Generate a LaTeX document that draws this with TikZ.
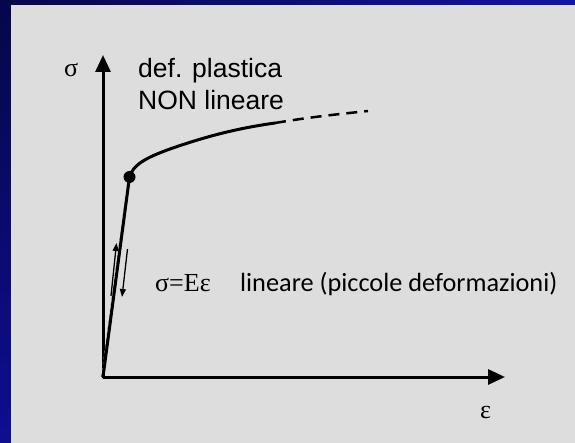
\documentclass[tikz,border=0pt]{standalone}
\usepackage{fontspec}
\setmainfont{Liberation Sans}
\newfontfamily\serifface{Liberation Serif}
\newfontfamily\calface{Carlito}
\usetikzlibrary{arrows.meta,shadings}
\definecolor{panel}{HTML}{DDDDDD}
\definecolor{bluedark}{HTML}{06064A}
\definecolor{bluemid}{HTML}{0E0E90}
\definecolor{bluebright}{HTML}{1414A6}
\tikzset{
  axisline/.style={line width=3pt,-{Triangle[length=17pt,width=15pt]}},
  curveline/.style={line width=3pt,line cap=round},
  smallarrow/.style={line width=1.3pt,-{Triangle[length=8pt,width=6pt]}},
  sanslabel/.style={anchor=base west,inner sep=0pt,font=\fontsize{26.5}{30}\selectfont},
  seriflabel/.style={anchor=base west,inner sep=0pt,font=\serifface\fontsize{26}{29}\selectfont},
  callabel/.style={anchor=base west,inner sep=0pt,font=\calface\fontsize{26.3}{30}\selectfont}
}
\begin{document}
\begin{tikzpicture}[x=1pt,y=-1pt]
\useasboundingbox (0,0) rectangle (575,443);
\shade[upper left=bluedark,upper right=bluebright,lower left=bluemid,lower right=bluebright] (0,0) rectangle (575,443);
\fill[panel] (11,5) rectangle (575,443);
% axes
\coordinate (O) at (103,377);
\coordinate (ytip) at (103,55);
\coordinate (xtip) at (505,377);
\draw[axisline] (O) -- (ytip);
\draw[axisline] (O) -- (xtip);
% curve
\coordinate (Y) at (129.5,177);
\coordinate (M) at (170,149);
\coordinate (S) at (275,123);
\coordinate (E) at (368,111);
\draw[line width=1pt,dashed,gray] (101.5,377) -- (128,180);
\draw[curveline] (O) -- (Y) .. controls (133,165) and (145,158) .. (M) .. controls (210,135) and (240,128) .. (S);
\draw[line width=2.5pt,dash pattern=on 11pt off 7pt] (S) .. controls (310,117) and (340,114) .. (E);
\fill (Y) circle (6pt);
% small arrows
\coordinate (ua) at (111,296);
\coordinate (ub) at (116.5,243);
\coordinate (da) at (127.5,249);
\coordinate (db) at (122,297);
\draw[smallarrow] (ua) -- (ub);
\draw[smallarrow] (da) -- (db);
% labels
\node[seriflabel] (sig) at (64,77) {σ};
\node[sanslabel] (def) at (138,78) {def. plastica};
\node[sanslabel] (non) at (138,110) {NON lineare};
\node[seriflabel] (hooke) at (155,292) {σ=Eε};
\node[callabel] (lin) at (240,292) {lineare (piccole deformazioni)};
\node[seriflabel] (eps) at (480,418) {ε};
\end{tikzpicture}
\end{document}
